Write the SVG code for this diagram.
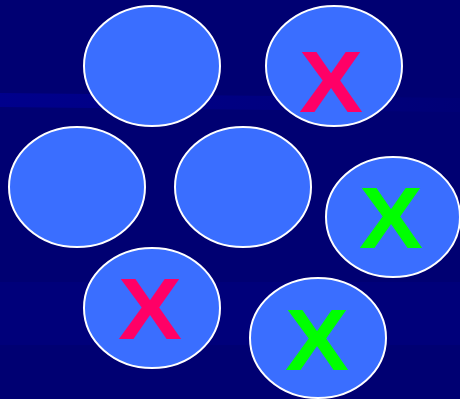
<svg xmlns="http://www.w3.org/2000/svg" width="460" height="399" viewBox="0 0 460 399">
<defs>
<linearGradient id="bandfade" x1="0" y1="0" x2="1" y2="0">
<stop offset="0" stop-color="#00008C"/>
<stop offset="0.6" stop-color="#000080"/>
<stop offset="1" stop-color="#000076"/>
</linearGradient>
</defs>
<style>
.n{fill:#3A6EFF;stroke:#FFFFFF;stroke-width:2}
.x{font-family:"Liberation Sans",Arial,sans-serif;font-weight:bold;font-size:87px;text-anchor:middle}
.p{fill:#FF0066}
.g{fill:#00FF00}
</style>
<rect width="460" height="399" fill="#000072"/>
<polygon points="0,93 460,98 460,112 0,107" fill="url(#bandfade)"/>
<rect x="0" y="282" width="460" height="63" fill="#00007A"/>
<g id="n1"><ellipse class="n" cx="152" cy="66" rx="68" ry="60"/></g>
<g id="n2"><ellipse class="n" cx="334" cy="66" rx="68" ry="60"/><text class="x p" x="331" y="112" textLength="64" lengthAdjust="spacingAndGlyphs">X</text></g>
<g id="n3"><ellipse class="n" cx="77" cy="187" rx="68" ry="60"/></g>
<g id="n4"><ellipse class="n" cx="243" cy="187" rx="68" ry="60"/></g>
<g id="n5"><ellipse class="n" cx="393" cy="217" rx="67" ry="60"/><text class="x g" x="391" y="248" textLength="64" lengthAdjust="spacingAndGlyphs">X</text></g>
<g id="n6"><ellipse class="n" cx="152" cy="308" rx="68" ry="60"/><text class="x p" x="150" y="339" textLength="64" lengthAdjust="spacingAndGlyphs">X</text></g>
<g id="n7"><ellipse class="n" cx="318" cy="338" rx="68" ry="60"/><text class="x g" x="317" y="370" textLength="64" lengthAdjust="spacingAndGlyphs">X</text></g>
<g id="connectors"></g>
</svg>
